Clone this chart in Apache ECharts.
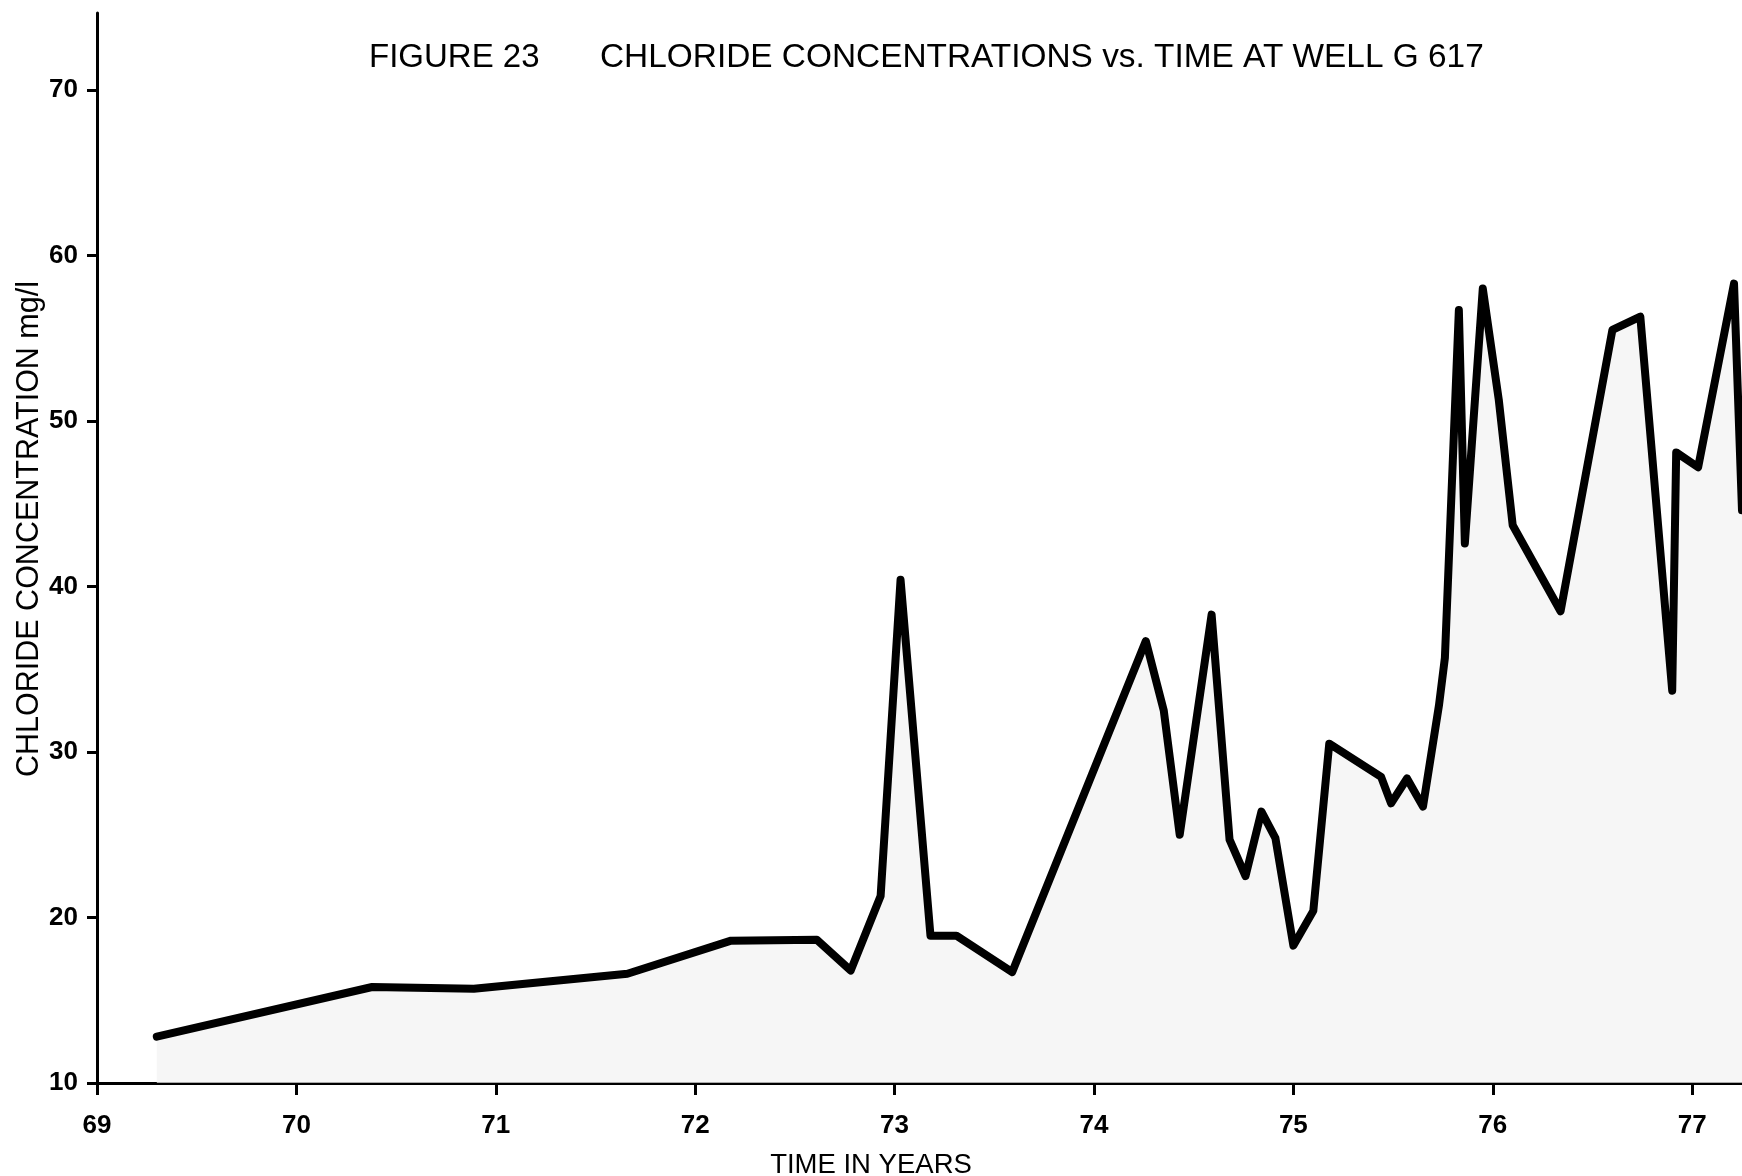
<!DOCTYPE html>
<html>
<head>
<meta charset="utf-8">
<script src="https://cdn.jsdelivr.net/npm/echarts@6/dist/echarts.min.js"></script>
<style>
html,body{margin:0;padding:0;background:#fff;}
#chart{width:1742px;height:1176px;}
</style>
</head>
<body>
<div id="chart"></div>
<script>
// Time in years (19xx) and chloride concentration (mg/l)
const years = [69.30, 70.38, 70.89, 71.66, 72.18, 72.61, 72.78, 72.93, 73.03, 73.18,
  73.31, 73.59, 74.26, 74.35, 74.43, 74.59, 74.68, 74.76, 74.84, 74.91,
  75.00, 75.10, 75.18, 75.44, 75.49, 75.57, 75.65, 75.73, 75.76, 75.83,
  75.86, 75.95, 76.03, 76.10, 76.34, 76.60, 76.74, 76.90, 76.92, 77.03,
  77.21, 77.25];
const chloride = [12.8, 15.8, 15.7, 16.6, 18.6, 18.65, 16.8, 21.3, 40.4, 18.9,
  18.9, 16.7, 36.7, 32.5, 25.0, 38.3, 24.7, 22.5, 26.4, 24.8,
  18.3, 20.4, 30.5, 28.5, 26.9, 28.4, 26.7, 32.8, 35.7, 56.7,
  42.6, 58.0, 51.3, 43.7, 38.5, 55.5, 56.3, 33.7, 48.1, 47.2,
  58.3, 44.6];
const xTicks = { min: 69, max: 77.25, step: 1 };
const yTicks = { min: 10, max: 74.65, step: 10 };
const figureLabel = 'FIGURE 23';
const titleText = 'CHLORIDE CONCENTRATIONS vs. TIME AT WELL G 617';
const xName = 'TIME IN YEARS';
const yName = 'CHLORIDE CONCENTRATION mg/l';

const FONT = '"Liberation Sans", Arial, Helvetica, sans-serif';
const chart = echarts.init(document.getElementById('chart'), null, {renderer: 'canvas'});
chart.setOption({
  animation: false,
  backgroundColor: '#fff',
  grid: { left: 97, right: 0, top: 13, bottom: 93, containLabel: false },
  xAxis: {
    type: 'value', min: xTicks.min, max: xTicks.max, interval: xTicks.step,
    axisLine: { show: true, lineStyle: { color: '#000', width: 3 } },
    axisTick: { show: true, length: 12, lineStyle: { color: '#000', width: 3 } },
    axisLabel: { color: '#000', fontSize: 26, fontWeight: 'bold', fontFamily: FONT, margin: 30, showMaxLabel: false },
    splitLine: { show: false }
  },
  yAxis: {
    type: 'value', min: yTicks.min, max: yTicks.max, interval: yTicks.step,
    axisLine: { show: true, lineStyle: { color: '#000', width: 3 } },
    axisTick: { show: true, length: 10, lineStyle: { color: '#000', width: 3 } },
    axisLabel: { color: '#000', fontSize: 26, fontWeight: 'bold', fontFamily: FONT, margin: 19, showMaxLabel: false },
    splitLine: { show: false }
  },
  graphic: [
    { type: 'text', left: 369, top: 41, style: { text: figureLabel, font: '33px ' + FONT, fill: '#000' } },
    { type: 'text', left: 600, top: 41, style: { text: titleText, font: '33.4px ' + FONT, fill: '#000' } },
    { type: 'text', left: 'center', top: 1151, style: { text: xName, font: '27.5px ' + FONT, fill: '#000' } },
    { type: 'text', x: 30, y: 529, rotation: Math.PI / 2,
      style: { text: yName, font: '30.5px ' + FONT, fill: '#000', align: 'center', verticalAlign: 'middle' } }
  ],
  series: [{
    type: 'line',
    data: years.map((y, i) => [y, chloride[i]]),
    symbol: 'none',
    clip: true,
    lineStyle: { color: '#000', width: 8, cap: 'round', join: 'round' },
    areaStyle: { origin: 'start', color: '#f2f2f2' }
  }]
});
</script>
</body>
</html>
